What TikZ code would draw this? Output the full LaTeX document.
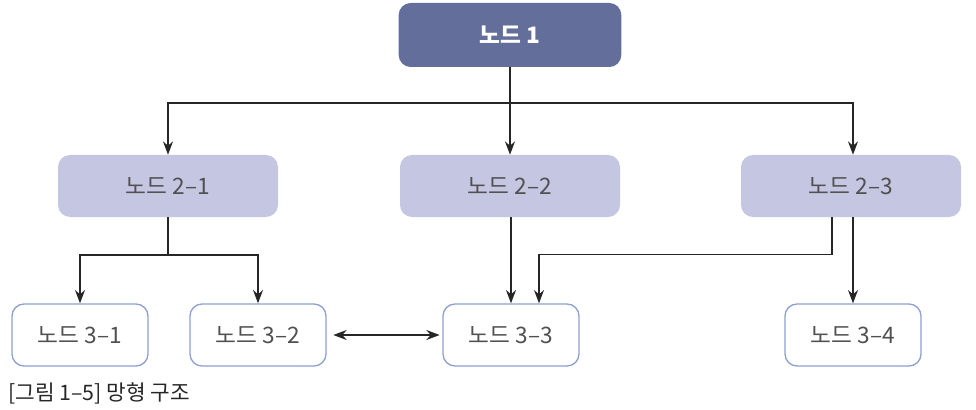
\documentclass[tikz,border=0pt]{standalone}
\usepackage{fontspec}
\setmainfont{Noto Sans CJK KR}
\usetikzlibrary{arrows.meta,calc}

\definecolor{topfill}{RGB}{99,111,154}
\definecolor{midfill}{RGB}{197,198,226}
\definecolor{lowdraw}{RGB}{141,160,208}
\definecolor{labelgray}{RGB}{80,80,80}

\begin{document}
\begin{tikzpicture}[x=0.75pt,y=0.75pt,yscale=-1,xscale=1,
  topnode/.style={fill=topfill,draw=none,rounded corners=9pt,minimum width=167pt,minimum height=48pt,text=white,font=\fontsize{17}{20}\selectfont\bfseries},
  midnode/.style={fill=midfill,draw=none,rounded corners=9pt,minimum width=165pt,minimum height=46.5pt,text=labelgray,font=\fontsize{17}{20}\selectfont},
  lownode/.style={fill=white,draw=lowdraw,line width=1pt,rounded corners=9pt,minimum width=102pt,minimum height=46.5pt,text=labelgray,font=\fontsize{17}{20}\selectfont},
  tip/.tip={Stealth[length=10pt,width=7.5pt]},
  arr/.style={draw=black!85,line width=1.2pt,-tip}]

\useasboundingbox (0,0) rectangle (976,410);

% Nodes
\node [topnode] (n1) at (510,35) {노드 1};
\node [midnode] (n21) at (168,186) {노드 2–1};
\node [midnode] (n22) at (510,186) {노드 2–2};
\node [midnode] (n23) at (851,186) {노드 2–3};
\node [lownode] (n31) at (80,335) {노드 3–1};
\node [lownode] (n32) at (258,335) {노드 3–2};
\node [lownode] (n33) at (511,335) {노드 3–3};
\node [lownode] (n34) at (853,335) {노드 3–4};

% Junctions
\coordinate (j1) at (510,103);
\coordinate (j2) at (168,255);

% Connectors
\draw [arr] (n1.south) -- (j1) -| (n21.north);
\draw [arr] (n1.south) -- (n22.north);
\draw [arr] (n1.south) -- (j1) -| (n23.north -| n34.north);
\draw [arr] (n21.south) -- (j2) -| (n31.north);
\draw [arr] (n21.south) -- (j2) -| (n32.north);
\draw [arr] (n22.south -| n33.north) -- (n33.north);
\draw [arr] ($(n23.south)+(-19,0)$) |- ($(n33.north)+(28,-49)$) -- ($(n33.north)+(28,0)$);
\draw [arr] (n23.south -| n34.north) -- (n34.north);
\draw [arr,tip-tip,shorten <=5pt,shorten >=2pt] (n32.east) -- (n33.west);

% Text Node
\node [anchor=west,inner sep=0pt,text=black!85,font=\fontsize{16}{19}\selectfont] (cap) at (8,393) {[그림 1–5] 망형 구조};
\end{tikzpicture}
\end{document}
